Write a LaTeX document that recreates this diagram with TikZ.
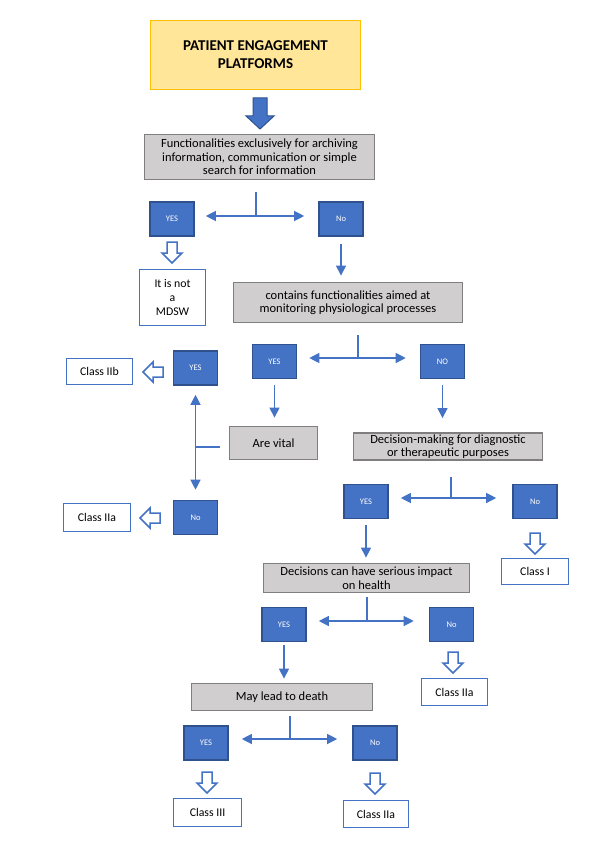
\documentclass[tikz,border=0pt]{standalone}
\usepackage{fontspec}
\setmainfont{Carlito}
\usetikzlibrary{arrows.meta}
\definecolor{bluefill}{HTML}{4472C4}
\definecolor{bluedark}{HTML}{2F528F}
\definecolor{grayfill}{HTML}{D0CECE}
\definecolor{grayedge}{HTML}{7F7F7F}
\definecolor{titlefill}{HTML}{FFE699}
\definecolor{titleedge}{HTML}{FFC000}
\tikzset{
 bluebox/.style={draw=bluedark, line width=1.6pt, fill=bluefill, text=white, minimum width=44pt, minimum height=34pt, inner sep=0pt, font=\fontsize{8.5}{10}\selectfont},
 graybox/.style={draw=grayedge, line width=1.8pt, fill=grayfill, inner sep=0pt, align=center, font=\fontsize{12.5}{13.5}\selectfont},
 classbox/.style={draw=bluefill, line width=1.6pt, fill=white, inner sep=0pt, align=center, font=\fontsize{11.8}{14}\selectfont},
 titlebox/.style={draw=titleedge, line width=1.5pt, fill=titlefill, inner sep=0pt, align=center, font=\fontsize{15}{18}\selectfont\bfseries},
 conn/.style={draw=bluefill, line width=1.2pt, -{Triangle[length=10pt,width=10pt]}},
 dconn/.style={draw=bluefill, line width=1.2pt, {Triangle[length=10pt,width=10pt]}-{Triangle[length=10pt,width=10pt]}},
 stub/.style={draw=bluefill, line width=1.2pt},
 hollow/.style={draw=bluefill, line width=1.5pt, fill=white},
 bigarrow/.style={draw=bluedark, line width=1pt, fill=bluefill},
 darr/.pic={\path[pic actions] (-5,0) -- (5,0) -- (5,11) -- (10,11) -- (0,21) -- (-10,11) -- (-5,11) -- cycle;},
 larr/.pic={\path[pic actions] (0,-5) -- (0,5) -- (-10,5) -- (-10,10) -- (-20,0) -- (-10,-10) -- (-10,-5) -- cycle;},
 bigdarr/.pic={\path[pic actions] (-7,0) -- (7,0) -- (7,18) -- (14,18) -- (0,31) -- (-14,18) -- (-7,18) -- cycle;},
}
\begin{document}
\begin{tikzpicture}[x=1pt,y=-1pt]
\fill[white] (0,0) rectangle (603,842);
\useasboundingbox (0,0) rectangle (603,842);

% boxes
\node[titlebox, minimum width=210pt, minimum height=69pt] (title) at (255.5,55) {PATIENT ENGAGEMENT\\PLATFORMS};
\node[graybox, minimum width=230pt, minimum height=45pt] (g1) at (259.5,157) {Functionalities exclusively for archiving\\information, communication or simple\\search for information};
\node[bluebox] (yes1) at (172,219) {YES};
\node[bluebox] (no1) at (341,219) {No};
\node[classbox, minimum width=66pt, minimum height=56pt] (notm) at (172.5,297.5) {It is not\\a\\MDSW};
\node[graybox, minimum width=229pt, minimum height=40pt] (g2) at (348,302.5) {contains functionalities aimed at\\monitoring physiological processes};
\node[bluebox] (yes2) at (274.5,361.5) {YES};
\node[bluebox] (no2) at (442.5,361.5) {NO};
\node[graybox, minimum width=88pt, minimum height=33pt] (vital) at (273.5,443) {Are vital};
\node[graybox, minimum width=189pt, minimum height=27pt] (g3) at (448,446.5) {Decision-making for diagnostic\\or therapeutic purposes};
\node[bluebox] (yes3) at (195.5,368) {YES};
\node[classbox, minimum width=66pt, minimum height=26pt] (c2b) at (99.5,371.5) {Class IIb};
\node[bluebox] (no3) at (195.5,517.5) {No};
\node[classbox, minimum width=67pt, minimum height=28pt] (c2a1) at (97,517.5) {Class IIa};
\node[bluebox] (yes4) at (366,501.5) {YES};
\node[bluebox] (no4) at (535,501.5) {No};
\node[classbox, minimum width=67pt, minimum height=26pt] (c1) at (535,571.5) {Class I};
\node[graybox, minimum width=206pt, minimum height=29pt] (g4) at (366.5,578) {Decisions can have serious impact\\on health};
\node[bluebox] (yes5) at (284,624.5) {YES};
\node[bluebox] (no5) at (451.5,624.5) {No};
\node[classbox, minimum width=66pt, minimum height=27pt] (c2a2) at (454.5,692) {Class IIa};
\node[graybox, minimum width=181pt, minimum height=27pt] (g5) at (282,697) {May lead to death};
\node[bluebox] (yes6) at (206,743) {YES};
\node[bluebox] (no6) at (375,743) {No};
\node[classbox, minimum width=68pt, minimum height=28pt] (c3) at (207.5,812.5) {Class III};
\node[classbox, minimum width=65pt, minimum height=27pt] (c2a3) at (376,814) {Class IIa};

% junctions
\coordinate (j1) at (256,216);
\coordinate (j2) at (358,358);
\coordinate (j3) at (451,498);
\coordinate (j4) at (367,621);
\coordinate (j5) at (290,739);
\coordinate (jv) at (195.5,447);

% block arrows
\pic[bigarrow] at (260,98) {bigdarr};
\pic[hollow] at (172,242) {darr};
\pic[hollow] at (535,533) {darr};
\pic[hollow] at (453,652) {darr};
\pic[hollow] at (207,772) {darr};
\pic[hollow] at (375,773) {darr};
\pic[hollow] at (163,372) {larr};
\pic[hollow] at (160,518) {larr};

% stubs and branches
\draw[stub, shorten <=12pt] (g1.south -| j1) -- (j1);
\draw[conn, shorten >=11pt] (j1) -- (j1 -| yes1.east);
\draw[conn, shorten >=14pt] (j1) -- (j1 -| no1.west);

\draw[stub, shorten <=12pt] (g2.south -| j2) -- (j2);
\draw[conn, shorten >=12pt] (j2) -- (j2 -| yes2.east);
\draw[conn, shorten >=14pt] (j2) -- (j2 -| no2.west);

\draw[stub, shorten <=16pt] (g3.south -| j3) -- (j3);
\draw[conn, shorten >=12pt] (j3) -- (j3 -| yes4.east);
\draw[conn, shorten >=16pt] (j3) -- (j3 -| no4.west);

\draw[stub, shorten <=4pt] (g4.south -| j4) -- (j4);
\draw[conn, shorten >=12pt] (j4) -- (j4 -| yes5.east);
\draw[conn, shorten >=15pt] (j4) -- (j4 -| no5.west);

\draw[stub, shorten <=5pt] (g5.south -| j5) -- (j5);
\draw[conn, shorten >=13pt] (j5) -- (j5 -| yes6.east);
\draw[conn, shorten >=15pt] (j5) -- (j5 -| no6.west);

\draw[stub, shorten <=9pt] (vital.west |- jv) -- (jv);
\draw[dconn, shorten <=9pt, shorten >=10pt] (yes3.south) -- (no3.north);

% vertical arrows
\draw[conn, shorten <=7pt, shorten >=6pt] (no1.south) -- (no1.south |- g2.north);
\draw[conn, shorten <=6pt, shorten >=8pt] (yes2.south) -- (yes2.south |- vital.north);
\draw[conn, shorten <=6pt, shorten >=14pt] (no2.south) -- (no2.south |- g3.north);
\draw[conn, shorten <=6pt, shorten >=5pt] (yes4.south) -- (yes4.south |- g4.north);
\draw[conn, shorten <=3pt, shorten >=4pt] (yes5.south) -- (yes5.south |- g5.north);
\end{tikzpicture}
\end{document}
